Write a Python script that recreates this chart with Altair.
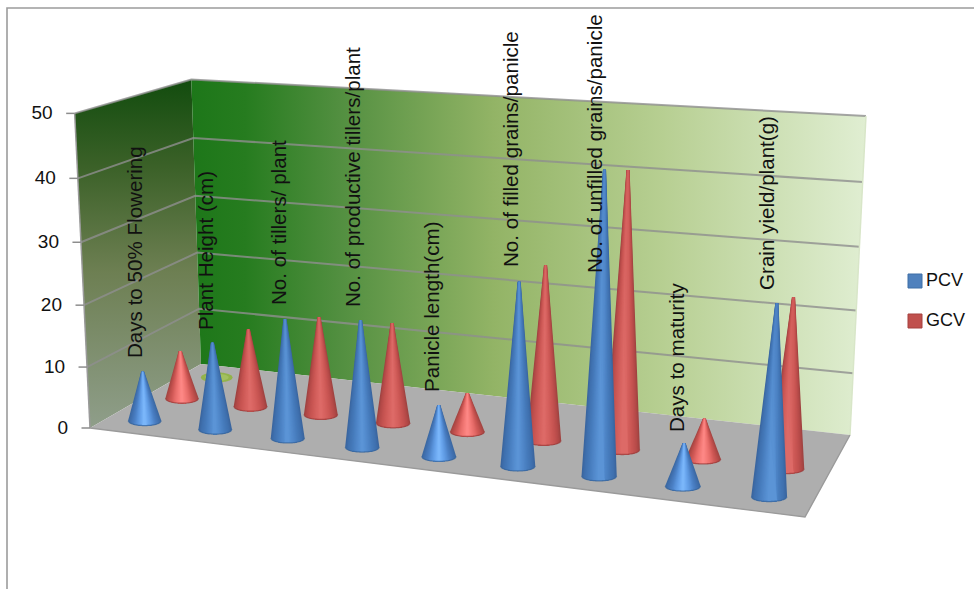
import altair as alt
import numpy as np
import pandas as pd

CATEGORIES = [
    "Days to 50% Flowering", "Plant Height (cm)", "No. of tillers/ plant",
    "No. of productive tillers/plant", "Panicle length(cm)",
    "No. of filled grains/panicle", "No. of unfilled grains/panicle",
    "Days to maturity", "Grain yield/plant(g)",
]
PCV = [8.1, 14.1, 19.1, 20.1, 8.1, 28.2, 45.5, 6.5, 28.4]
GCV = [8.1, 13.0, 16.2, 16.4, 6.3, 27.8, 43.2, 6.3, 26.2]
TICKS = [0, 10, 20, 30, 40, 50]

# Corners of the 3-D box on screen
FLOOR = [(90, 428), (805, 517), (850, 435), (201, 364)]  # front-left, front-right, back-right, back-left
WALL_TOP = {(0, 0): (75, 113), (1, 1): (866, 117), (0, 1): (191, 79)}
ROW_DEPTH = {"PCV": 1 / 6, "GCV": 0.5, "third": 5 / 6}
MAX_VALUE = 50.0


def homography(quad):
    src = [(0, 0), (1, 0), (1, 1), (0, 1)]
    a, b = [], []
    for (u, v), (x, y) in zip(src, quad):
        a.append([u, v, 1, 0, 0, 0, -u * x, -v * x])
        a.append([0, 0, 0, u, v, 1, -u * y, -v * y])
        b.extend([x, y])
    return np.append(np.linalg.solve(np.array(a, float), np.array(b, float)), 1).reshape(3, 3)


H_FLOOR = homography(FLOOR)

# Column of the perspective camera matrix that carries the value axis
_rows, _rhs = [], []
for (_u, _v), (_x, _y) in WALL_TOP.items():
    _px, _py, _pw = H_FLOOR @ np.array([_u, _v, 1.0])
    _rows.append([MAX_VALUE, 0, -MAX_VALUE * _x])
    _rhs.append(_x * _pw - _px)
    _rows.append([0, MAX_VALUE, -MAX_VALUE * _y])
    _rhs.append(_y * _pw - _py)
HEIGHT_COLUMN = np.linalg.lstsq(np.array(_rows), np.array(_rhs), rcond=None)[0]


def project(u, v, value):
    """Map category position, depth and value to drawing coordinates."""
    p = H_FLOOR @ np.array([u, v, 1.0]) + value * HEIGHT_COLUMN
    return p[:2] / p[2]


def polygon_rows(points):
    """Upper and lower outline of a convex polygon, sampled along x."""
    pts = list(points) + [points[0]]
    xs = sorted({float(p[0]) for p in points})
    rows = []
    for x in xs:
        ys = []
        for (x0, y0), (x1, y1) in zip(pts[:-1], pts[1:]):
            if min(x0, x1) <= x <= max(x0, x1):
                if x0 == x1:
                    ys += [y0, y1]
                else:
                    ys.append(y0 + (y1 - y0) * (x - x0) / (x1 - x0))
        rows.append({"x": x, "y": min(ys), "y2": max(ys)})
    return pd.DataFrame(rows)


X_SCALE = alt.Scale(domain=[0, 974], range=[0, 974])
Y_SCALE = alt.Scale(domain=[0, 589], range=[0, 589])
X = alt.X("x:Q", scale=X_SCALE, axis=None)
Y = alt.Y("y:Q", scale=Y_SCALE, axis=None)
ENC = dict(x=X, y=Y, y2=alt.Y2("y2:Q"))


def gradient(stops, horizontal=True):
    return alt.Gradient(
        gradient="linear",
        x1=0, y1=0,
        x2=1 if horizontal else 0,
        y2=0 if horizontal else 1,
        stops=[alt.GradientStop(offset=o, color=c) for o, c in stops],
    )


def surface(points, fill):
    return alt.Chart(polygon_rows(points)).mark_area(fill=fill, orient="vertical").encode(**ENC)


def polyline(points, color, width, opacity=1.0):
    df = pd.DataFrame(points, columns=["x", "y"]).assign(i=range(len(points)))
    return alt.Chart(df).mark_line(color=color, strokeWidth=width, opacity=opacity).encode(
        x=X, y=Y, order="i:Q"
    )


# Cone shading from rim to axis: (share of base width, colour)
SHADES = {
    ("PCV", True): [(1, "#3c69a3"), (.86, "#4272b2"), (.66, "#4b80c4"), (.46, "#5a94dc"), (.26, "#6aa6ee"), (.08, "#7ab6fa")],
    ("PCV", False): [(1, "#3a66a0"), (.86, "#3f70ae"), (.66, "#4478b8"), (.46, "#4c82c4"), (.26, "#548cce"), (.08, "#5b94d6")],
    ("GCV", True): [(1, "#a54643"), (.86, "#bb4d4a"), (.66, "#d25a57"), (.46, "#e66c69"), (.26, "#f47a77"), (.08, "#fd8785")],
    ("GCV", False): [(1, "#a04341"), (.86, "#b54a48"), (.66, "#c45250"), (.46, "#cf5b58"), (.26, "#d76360"), (.08, "#dd6a67")],
}
BAND_COUNT = 14
RIM = {"PCV": "#38659c", "GCV": "#9c3f3d"}
TIP_HALF_WIDTH = 1.6


def smooth_bands(shades):
    """Spread the shading stops over evenly spaced nested bands."""
    shares = np.linspace(1, shades[-1][0], BAND_COUNT)
    stops = np.array([s for s, _ in shades])[::-1]
    rgb = np.array([[int(c[i:i + 2], 16) for i in (1, 3, 5)] for _, c in shades], float)[::-1]
    out = []
    for share in shares:
        channels = [int(round(np.interp(share, stops, rgb[:, k]))) for k in range(3)]
        out.append((float(share), "#%02x%02x%02x" % tuple(channels)))
    return out


def cone_rows(index, value, series):
    u = (index + 0.5) / len(CATEGORIES)
    v = ROW_DEPTH[series]
    cx, cy = project(u, v, 0)
    ax, ay = project(u, v, value)
    rx, ry = 16.5 + 1.5 * u, 5.0
    frames = []
    for rank, (share, color) in enumerate(smooth_bands(SHADES[(series, value < 10)])):
        left, right = cx - share * rx, cx + share * rx
        tip_l, tip_r = ax - share * TIP_HALF_WIDTH, ax + share * TIP_HALF_WIDTH
        xs = np.unique(np.concatenate([np.linspace(left, right, 31), [tip_l, tip_r]]))
        lower = cy + ry * np.sqrt(np.clip(1 - ((xs - cx) / rx) ** 2, 0, 1))
        edge_y = cy + ry * np.sqrt(max(1 - share ** 2, 0)) * 0.6
        upper = np.interp(xs, [left, tip_l, tip_r, right], [edge_y, ay, ay, edge_y])
        frames.append(pd.DataFrame({
            "x": xs, "y": upper, "y2": lower,
            "band": f"{index:02d}-{rank:02d}", "fill": color,
        }))
    return pd.concat(frames, ignore_index=True)


def cone_row_layers(values, series):
    df = pd.concat([cone_rows(i, val, series) for i, val in enumerate(values)], ignore_index=True)
    bodies = alt.Chart(df).mark_area(orient="vertical").encode(
        **ENC, fill=alt.Fill("fill:N", scale=None), detail="band:N"
    )
    rims = alt.Chart(df[df["band"].str.endswith("-00")]).mark_line(
        color=RIM[series], strokeWidth=1.3, opacity=0.75
    ).encode(x=X, y=alt.Y("y2:Q", scale=Y_SCALE, axis=None), detail="band:N")
    return [bodies, rims]


def flat_disc(index, series, rx, ry, color):
    u = (index + 0.5) / len(CATEGORIES)
    cx, cy = project(u, ROW_DEPTH[series], 0)
    xs = np.linspace(cx - rx, cx + rx, 31)
    half = ry * np.sqrt(np.clip(1 - ((xs - cx) / rx) ** 2, 0, 1))
    df = pd.DataFrame({"x": xs, "y": cy - half, "y2": cy + half})
    return alt.Chart(df).mark_area(fill=color, orient="vertical").encode(**ENC)


layers = []

# Box walls and floor
layers.append(surface(
    [tuple(project(0, 0, 0)), tuple(project(0, 1, 0)), tuple(project(0, 1, 50)), tuple(project(0, 0, 50))],
    gradient([(0, "#124c0e"), (.25, "#3b6128"), (.55, "#6d7f52"), (1, "#8f9e8a")], horizontal=False),
))
layers.append(surface(
    [tuple(project(0, 1, 0)), tuple(project(1, 1, 0)), tuple(project(1, 1, 50)), tuple(project(0, 1, 50))],
    gradient([(0, "#1d7719"), (.08, "#267c1f"), (.22, "#528f40"), (.45, "#93b466"),
              (.7, "#b7cf92"), (1, "#e0eed2")]),
))
layers.append(surface([tuple(p) for p in FLOOR], "#aeaeae"))

# Gridlines run along the side wall and the back wall
for t in TICKS[1:]:
    pts = [project(0, 0, t), project(0, 1, t), project(1, 1, t)]
    layers.append(polyline([tuple(p) for p in pts], "#8f8f8f", 2, 0.8))
layers.append(polyline([tuple(project(0, 0, 0)), tuple(project(0, 0, 50))], "#9a9a9a", 1.5))
layers.append(polyline([tuple(project(1, 1, 0)), tuple(project(1, 1, 50))], "#d8e6c8", 1.5))
layers.append(polyline([tuple(FLOOR[0]), tuple(FLOOR[1]), tuple(FLOOR[2])], "#9a9a9a", 1.4))

# Value axis ticks and labels
tick_rows = []
for t in TICKS:
    px, py = project(0, 0, t)
    layers.append(polyline([(px - 8.5, py), (px, py)], "#8d8d8d", 1.5))
    tick_rows.append({"x": px - 22, "y": py, "label": str(t)})
layers.append(
    alt.Chart(pd.DataFrame(tick_rows)).mark_text(
        align="right", baseline="middle", font="Liberation Sans", fontSize=19, color="#111111"
    ).encode(x=X, y=Y, text="label:N")
)

# Cones, back row first
layers.append(flat_disc(0, "third", 16, 5, "#93b34a"))
layers.append(flat_disc(0, "third", 12, 3.5, "#a2c05f"))
layers += cone_row_layers(GCV, "GCV")
layers += cone_row_layers(PCV, "PCV")

# Category labels, rotated and standing over their cones
LABEL_X = [136, 207, 280, 354, 433, 512, 596, 678, 768]
LABEL_Y = [358, 330, 305, 307, 392, 267, 273, 432, 290]
labels = pd.DataFrame({"x": LABEL_X, "y": LABEL_Y, "label": CATEGORIES})
layers.append(
    alt.Chart(labels).mark_text(
        align="left", baseline="middle", angle=270, font="Liberation Sans", fontSize=20.6, color="#111111"
    ).encode(x=X, y=Y, text="label:N")
)

# Legend
legend = pd.DataFrame({
    "x": [908, 908], "x2": [922, 922], "y": [274, 314], "y2": [288, 328],
    "fill": ["#4f81bd", "#c0504d"], "stroke": ["#3f6ea6", "#a5403e"], "label": ["PCV", "GCV"],
})
layers.append(
    alt.Chart(legend).mark_rect(strokeWidth=1).encode(
        x=X, x2="x2:Q", y=Y, y2="y2:Q",
        fill=alt.Fill("fill:N", scale=None), stroke=alt.Stroke("stroke:N", scale=None),
    )
)
layers.append(
    alt.Chart(legend.assign(tx=926, ty=lambda d: d.y + 7)).mark_text(
        align="left", baseline="middle", font="Liberation Sans", fontSize=18, color="#111111"
    ).encode(x=alt.X("tx:Q", scale=X_SCALE, axis=None), y=alt.Y("ty:Q", scale=Y_SCALE, axis=None), text="label:N")
)

# Chart-area border: only the top and left edges fall inside the frame
layers.append(polyline([(7, 589), (7, 8), (974, 8)], "#9c9c9c", 1.6))

chart = alt.layer(*layers).properties(
    width=974, height=589, padding=0, background="#ffffff",
    autosize=alt.AutoSizeParams(type="none"),
).configure_view(stroke=None)

chart.save("out.html", embed_options={"renderer": "svg", "actions": False})
